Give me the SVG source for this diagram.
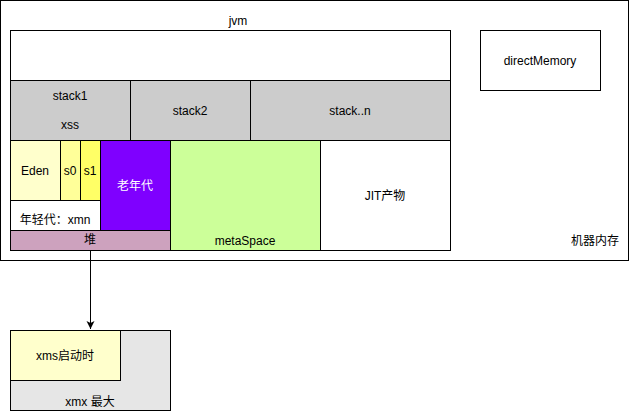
<svg xmlns="http://www.w3.org/2000/svg" width="631" height="411" viewBox="0 0 631 411">
<style>
.b{stroke:#000;stroke-width:1}
.t{font-family:"Liberation Sans","Noto Sans CJK SC",sans-serif;font-size:12px;fill:#000;text-anchor:middle;dominant-baseline:central}
.w{fill:#fff}
</style>
<defs>
<marker id="arr" markerWidth="10" markerHeight="10" refX="8" refY="4" orient="auto" markerUnits="userSpaceOnUse">
<path d="M0,0 L8,4 L0,8 L2,4 Z" fill="#000"/>
</marker>
</defs>
<rect width="631" height="411" fill="#fff"/>
<g id="machine"><rect class="b w" x="0.5" y="0.5" width="628" height="260"/><text class="t" x="595" y="241">机器内存</text></g>
<g id="jvm-label"><text class="t" x="238" y="21">jvm</text></g>
<g id="jvm"><rect class="b w" x="10.5" y="30.5" width="440" height="220"/></g>
<g id="stack1"><rect class="b" fill="#ccc" x="10.5" y="80.5" width="120" height="60"/><text class="t" x="70" y="96">stack1</text><text class="t" x="70" y="125">xss</text></g>
<g id="stack2"><rect class="b" fill="#ccc" x="130.5" y="80.5" width="120" height="60"/><text class="t" x="190" y="111">stack2</text></g>
<g id="stackn"><rect class="b" fill="#ccc" x="250.5" y="80.5" width="200" height="60"/><text class="t" x="350" y="111">stack..n</text></g>
<g id="young"><rect class="b w" x="10.5" y="140.5" width="90" height="90"/><text class="t" x="55" y="220">年轻代：xmn</text></g>
<g id="eden"><rect class="b" fill="#FFFFCC" x="10.5" y="140.5" width="50" height="60"/><text class="t" x="35" y="171">Eden</text></g>
<g id="s0"><rect class="b" fill="#FFFF99" x="60.5" y="140.5" width="20" height="60"/><text class="t" x="70" y="171">s0</text></g>
<g id="s1"><rect class="b" fill="#FFFF66" x="80.5" y="140.5" width="20" height="60"/><text class="t" x="90" y="171">s1</text></g>
<g id="old"><rect class="b" fill="#7F00FF" x="100.5" y="140.5" width="70" height="90"/><text class="t" x="135" y="186" style="fill:#fff">老年代</text></g>
<g id="heap"><rect class="b" fill="#CDA2BE" x="10.5" y="230.5" width="160" height="20"/><text class="t" x="90" y="240">堆</text></g>
<g id="meta"><rect class="b" fill="#CCFF99" x="170.5" y="140.5" width="150" height="110"/><text class="t" x="245" y="241">metaSpace</text></g>
<g id="jit"><rect class="b w" x="320.5" y="140.5" width="130" height="110"/><text class="t" x="385" y="196">JIT产物</text></g>
<g id="direct"><rect class="b w" x="480.5" y="30.5" width="120" height="60"/><text class="t" x="540" y="61">directMemory</text></g>
<g id="xmx"><rect class="b" fill="#E6E6E6" x="10.5" y="330.5" width="160" height="80"/><text class="t" x="90" y="402">xmx 最大</text></g>
<g id="xms"><rect class="b" fill="#FFFFCC" x="10.5" y="330.5" width="110" height="50"/><text class="t" x="65" y="356">xms启动时</text></g>
<g id="connectors"><line x1="90.5" y1="251" x2="90.5" y2="329" stroke="#000" stroke-width="1" marker-end="url(#arr)"/></g>
</svg>
